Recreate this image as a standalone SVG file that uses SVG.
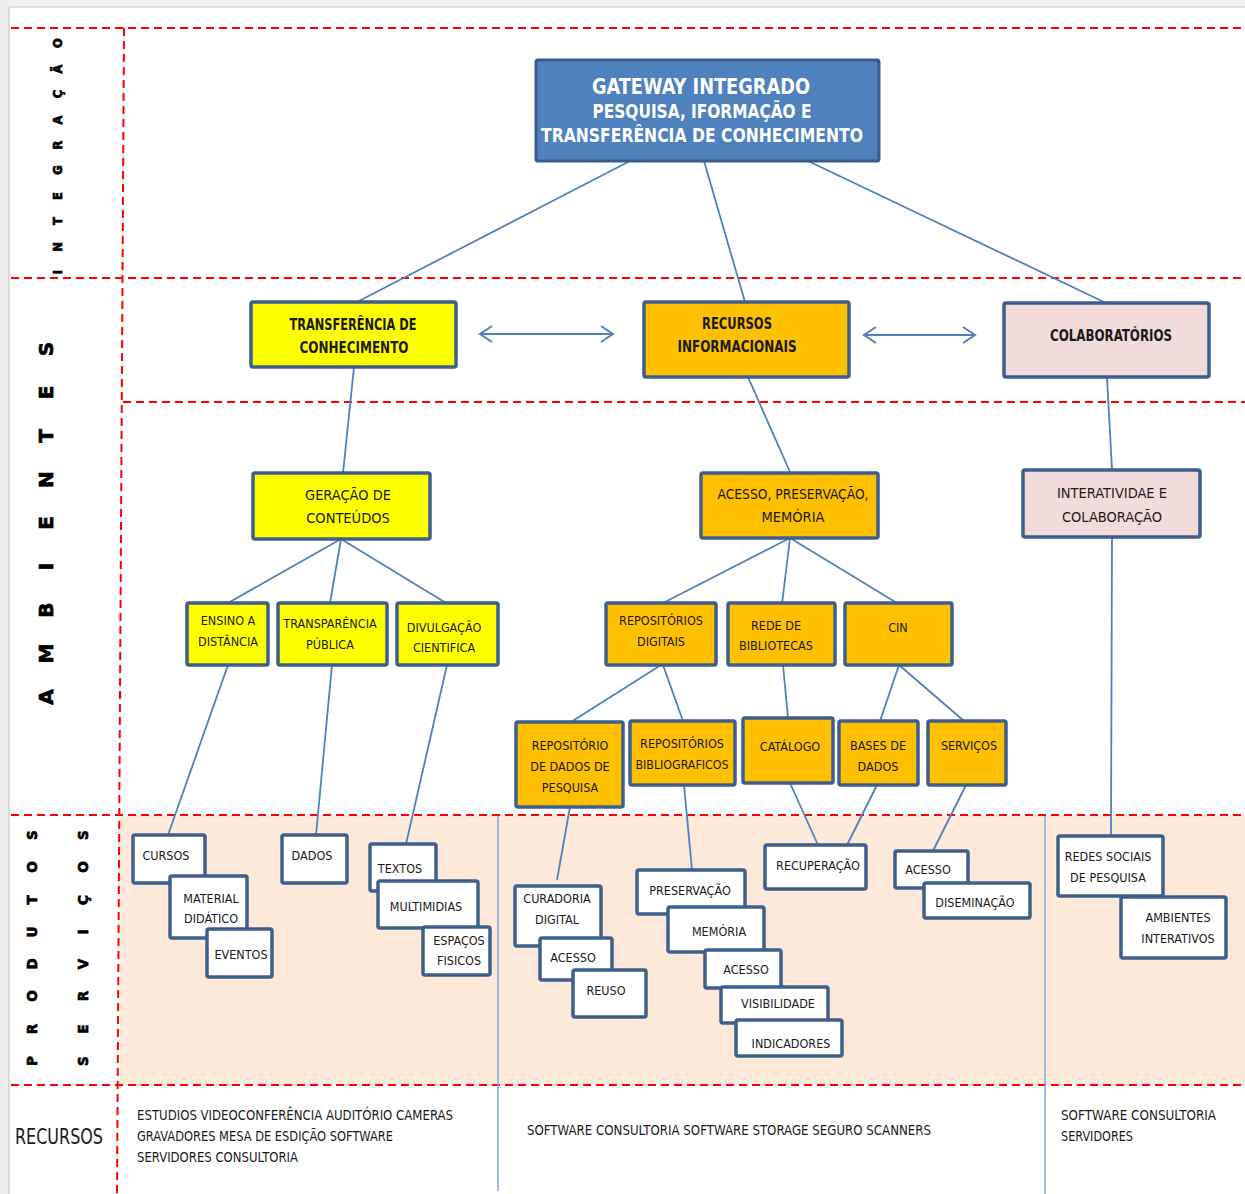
<svg xmlns="http://www.w3.org/2000/svg" width="1245" height="1194" viewBox="0 0 1245 1194">
<defs>
<style>
.red{stroke:#ff0000;stroke-width:2;stroke-dasharray:8 5;fill:none}
.con line{stroke:#4f81bd;stroke-width:1.8}
.sep{stroke:#7fa4d2;stroke-width:1.5}
.box{stroke:#3e5f8c;stroke-width:3.5}
.y{fill:#ffff00}.o{fill:#ffc000}.p{fill:#f2dcdb}.w{fill:#ffffff}
text{font-family:"Liberation Sans Narrow","DejaVu Sans Condensed","Liberation Sans",sans-serif;fill:#1a1a1a}
.c{text-anchor:middle}
.b{font-weight:bold}
.f15{font-size:14.5px}.f16{font-size:16px}.f13{font-size:12.5px}
.vert{font-family:"DejaVu Sans","Liberation Sans",sans-serif;font-weight:bold;text-anchor:middle;fill:#000;stroke:#000;stroke-width:0.7}
.g{fill:#ffffff;font-weight:bold;text-anchor:middle}
</style>
<marker id="chev" viewBox="-14 -10 16 20" markerWidth="16" markerHeight="20" refX="0" refY="0" orient="auto-start-reverse" markerUnits="userSpaceOnUse" overflow="visible">
<path d="M-12,-8 L0,0 L-12,8" fill="none" stroke="#4f81bd" stroke-width="2"/>
</marker>
</defs>
<rect x="0" y="0" width="1245" height="1194" fill="#efefef"/>
<rect x="9" y="7" width="1245" height="1200" fill="#ffffff" stroke="#d8d5c4" stroke-width="1.5"/>
<rect x="120" y="816" width="1125" height="269" fill="#fde9d9"/>
<g id="grid">
<line class="red" x1="11" y1="28" x2="1245" y2="28"/>
<line class="red" x1="124" y1="28" x2="117" y2="1194"/>
<line class="red" x1="11" y1="278" x2="1245" y2="278"/>
<line class="red" x1="123" y1="402" x2="1245" y2="402"/>
<line class="red" x1="11" y1="815" x2="1245" y2="815"/>
<line class="red" x1="11" y1="1085" x2="1245" y2="1085"/>
<line class="sep" x1="498" y1="816" x2="498" y2="1191"/>
<line class="sep" x1="1045" y1="816" x2="1045" y2="1194"/>
</g>
<g id="labels">
<text class="vert" style="font-size:11.5px" transform="translate(62,275) rotate(-90)" x="3 28 54 79 105 130 155 181 206 232">INTEGRAÇÃO</text>
<text class="vert" style="font-size:20px" transform="translate(53,720) rotate(-90)" x="23 66.5 110 153.5 197 240.5 284 327.5 371">AMBIENTES</text>
<text class="vert" style="font-size:13.5px" transform="translate(37,1080) rotate(-90)" x="19 51 84 116 148 180 213 245">PRODUTOS</text>
<text class="vert" style="font-size:13.5px" transform="translate(88,1080) rotate(-90)" x="19 51 84 116 148 180 213 245">SERVIÇOS</text>
<text x="15" y="1144" style="font-size:22px" textLength="88" lengthAdjust="spacingAndGlyphs">RECURSOS</text>
</g>
<g id="connectors" class="con">
<line x1="630" y1="161" x2="357" y2="302"/>
<line x1="704" y1="161" x2="745" y2="302"/>
<line x1="808" y1="161" x2="1106" y2="303"/>
<line x1="354" y1="367" x2="343" y2="473"/>
<line x1="748" y1="377" x2="790" y2="472"/>
<line x1="1107" y1="377" x2="1112" y2="470"/>
<line x1="341" y1="539" x2="228" y2="603"/>
<line x1="341" y1="539" x2="330" y2="603"/>
<line x1="341" y1="539" x2="446" y2="603"/>
<line x1="790" y1="538" x2="663" y2="603"/>
<line x1="790" y1="538" x2="782" y2="604"/>
<line x1="790" y1="538" x2="897" y2="603"/>
<line x1="661" y1="665" x2="571" y2="722"/>
<line x1="663" y1="665" x2="683" y2="721"/>
<line x1="783" y1="665" x2="788" y2="718"/>
<line x1="899" y1="665" x2="880" y2="721"/>
<line x1="899" y1="665" x2="964" y2="721"/>
<line x1="228" y1="665" x2="168" y2="835"/>
<line x1="332" y1="665" x2="316" y2="835"/>
<line x1="447" y1="665" x2="406" y2="844"/>
<line x1="570" y1="807" x2="557" y2="880"/>
<line x1="684" y1="785" x2="692" y2="870"/>
<line x1="790" y1="783" x2="818" y2="845"/>
<line x1="877" y1="785" x2="847" y2="845"/>
<line x1="966" y1="785" x2="933" y2="851"/>
<line x1="1112" y1="537" x2="1111" y2="836"/>
<line x1="480" y1="334" x2="613" y2="334" marker-start="url(#chev)" marker-end="url(#chev)"/>
<line x1="864" y1="335" x2="975" y2="335" marker-start="url(#chev)" marker-end="url(#chev)"/>
</g>
<g id="gateway">
<rect x="536" y="60" width="343" height="101" rx="2" fill="#4f81bd" stroke="#385d8a" stroke-width="3"/>
<text class="g" x="701" y="94" style="font-size:22px" textLength="218" lengthAdjust="spacingAndGlyphs">GATEWAY INTEGRADO</text>
<text class="g" x="702" y="118" style="font-size:19px" textLength="219" lengthAdjust="spacingAndGlyphs">PESQUISA, IFORMAÇÃO E</text>
<text class="g" x="702" y="142" style="font-size:19px" textLength="322" lengthAdjust="spacingAndGlyphs">TRANSFERÊNCIA DE CONHECIMENTO</text>
</g>
<g id="transferencia">
<rect class="box y" x="251" y="302" width="205" height="65" rx="2"/>
<text class="c b f16" x="353" y="330" textLength="127" lengthAdjust="spacingAndGlyphs">TRANSFERÊNCIA DE</text>
<text class="c b f16" x="354" y="353" textLength="109" lengthAdjust="spacingAndGlyphs">CONHECIMENTO</text>
</g>
<g id="recursos-info">
<rect class="box o" x="644" y="302" width="205" height="75" rx="2"/>
<text class="c b f16" x="737" y="329" textLength="70" lengthAdjust="spacingAndGlyphs">RECURSOS</text>
<text class="c b f16" x="737" y="352" textLength="119" lengthAdjust="spacingAndGlyphs">INFORMACIONAIS</text>
</g>
<g id="colaboratorios">
<rect class="box p" x="1004" y="303" width="205" height="74" rx="2"/>
<text class="c b f16" x="1111" y="341" textLength="122" lengthAdjust="spacingAndGlyphs">COLABORATÓRIOS</text>
</g>
<g id="geracao">
<rect class="box y" x="253" y="473" width="177" height="66" rx="2"/>
<text class="c f15" x="348" y="500">GERAÇÃO DE</text>
<text class="c f15" x="348" y="523">CONTEÚDOS</text>
</g>
<g id="acesso-pres">
<rect class="box o" x="701" y="473" width="177" height="65" rx="2"/>
<text class="c f15" x="793" y="499" textLength="151" lengthAdjust="spacingAndGlyphs">ACESSO, PRESERVAÇÃO,</text>
<text class="c f15" x="793" y="522">MEMÓRIA</text>
</g>
<g id="interatividade">
<rect class="box p" x="1023" y="470" width="177" height="67" rx="2"/>
<text class="c f15" x="1112" y="498">INTERATIVIDAE E</text>
<text class="c f15" x="1112" y="522">COLABORAÇÃO</text>
</g>
<g id="ensino">
<rect class="box y" x="187" y="603" width="81" height="62" rx="2"/>
<text class="c f13" x="228" y="625">ENSINO A</text>
<text class="c f13" x="228" y="646">DISTÂNCIA</text>
</g>
<g id="transparencia">
<rect class="box y" x="278" y="603" width="109" height="62" rx="2"/>
<text class="c f13" x="330" y="628">TRANSPARÊNCIA</text>
<text class="c f13" x="330" y="649">PÚBLICA</text>
</g>
<g id="divulgacao">
<rect class="box y" x="397" y="603" width="101" height="62" rx="2"/>
<text class="c f13" x="444" y="632">DIVULGAÇÃO</text>
<text class="c f13" x="444" y="652">CIENTIFICA</text>
</g>
<g id="repositorios-digitais">
<rect class="box o" x="606" y="603" width="110" height="62" rx="2"/>
<text class="c f13" x="661" y="625">REPOSITÓRIOS</text>
<text class="c f13" x="661" y="646">DIGITAIS</text>
</g>
<g id="rede-bibliotecas">
<rect class="box o" x="728" y="603" width="107" height="62" rx="2"/>
<text class="c f13" x="776" y="630">REDE DE</text>
<text class="c f13" x="776" y="650">BIBLIOTECAS</text>
</g>
<g id="cin">
<rect class="box o" x="845" y="603" width="107" height="62" rx="2"/>
<text class="c f13" x="898" y="632">CIN</text>
</g>
<g id="repositorio-dados">
<rect class="box o" x="516" y="722" width="107" height="85" rx="2"/>
<text class="c f13" x="570" y="750">REPOSITÓRIO</text>
<text class="c f13" x="570" y="771">DE DADOS DE</text>
<text class="c f13" x="570" y="792">PESQUISA</text>
</g>
<g id="repositorios-biblio">
<rect class="box o" x="630" y="721" width="105" height="64" rx="2"/>
<text class="c f13" x="682" y="748">REPOSITÓRIOS</text>
<text class="c f13" x="682" y="769" textLength="93" lengthAdjust="spacingAndGlyphs">BIBLIOGRAFICOS</text>
</g>
<g id="catalogo">
<rect class="box o" x="743" y="718" width="90" height="65" rx="2"/>
<text class="c f13" x="790" y="751">CATÁLOGO</text>
</g>
<g id="bases">
<rect class="box o" x="839" y="721" width="79" height="64" rx="2"/>
<text class="c f13" x="878" y="750">BASES DE</text>
<text class="c f13" x="878" y="771">DADOS</text>
</g>
<g id="servicos">
<rect class="box o" x="928" y="721" width="78" height="64" rx="2"/>
<text class="c f13" x="969" y="750">SERVIÇOS</text>
</g>
<g id="cursos">
<rect class="box w" x="133" y="835" width="72" height="48" rx="2"/>
<text class="c f13" x="166" y="860">CURSOS</text>
</g>
<g id="material">
<rect class="box w" x="170" y="876" width="77" height="62" rx="2"/>
<text class="c f13" x="211" y="903">MATERIAL</text>
<text class="c f13" x="211" y="923">DIDÁTICO</text>
</g>
<g id="eventos">
<rect class="box w" x="207" y="929" width="65" height="48" rx="2"/>
<text class="c f13" x="241" y="959">EVENTOS</text>
</g>
<g id="dados">
<rect class="box w" x="282" y="835" width="65" height="48" rx="2"/>
<text class="c f13" x="312" y="860">DADOS</text>
</g>
<g id="textos">
<rect class="box w" x="370" y="844" width="66" height="47" rx="2"/>
<text class="c f13" x="400" y="873">TEXTOS</text>
</g>
<g id="multimidias">
<rect class="box w" x="378" y="881" width="100" height="47" rx="2"/>
<text class="c f13" x="426" y="911">MULTIMIDIAS</text>
</g>
<g id="espacos">
<rect class="box w" x="423" y="927" width="67" height="48" rx="2"/>
<text class="c f13" x="459" y="945">ESPAÇOS</text>
<text class="c f13" x="459" y="965">FISICOS</text>
</g>
<g id="curadoria">
<rect class="box w" x="515" y="886" width="86" height="60" rx="2"/>
<text class="c f13" x="557" y="903">CURADORIA</text>
<text class="c f13" x="557" y="924">DIGITAL</text>
</g>
<g id="acesso1">
<rect class="box w" x="540" y="938" width="72" height="42" rx="2"/>
<text class="c f13" x="573" y="962">ACESSO</text>
</g>
<g id="reuso">
<rect class="box w" x="573" y="970" width="73" height="47" rx="2"/>
<text class="c f13" x="606" y="995">REUSO</text>
</g>
<g id="preservacao">
<rect class="box w" x="637" y="870" width="108" height="44" rx="2"/>
<text class="c f13" x="690" y="895">PRESERVAÇÃO</text>
</g>
<g id="memoria">
<rect class="box w" x="668" y="907" width="96" height="45" rx="2"/>
<text class="c f13" x="719" y="936">MEMÓRIA</text>
</g>
<g id="acesso2">
<rect class="box w" x="705" y="950" width="76" height="38" rx="2"/>
<text class="c f13" x="746" y="974">ACESSO</text>
</g>
<g id="visibilidade">
<rect class="box w" x="721" y="987" width="107" height="36" rx="2"/>
<text class="c f13" x="778" y="1008">VISIBILIDADE</text>
</g>
<g id="indicadores">
<rect class="box w" x="736" y="1020" width="106" height="36" rx="2"/>
<text class="c f13" x="791" y="1048">INDICADORES</text>
</g>
<g id="recuperacao">
<rect class="box w" x="765" y="845" width="101" height="44" rx="2"/>
<text class="c f13" x="818" y="870">RECUPERAÇÃO</text>
</g>
<g id="acesso3">
<rect class="box w" x="895" y="851" width="73" height="37" rx="2"/>
<text class="c f13" x="928" y="874">ACESSO</text>
</g>
<g id="diseminacao">
<rect class="box w" x="924" y="883" width="106" height="35" rx="2"/>
<text class="c f13" x="975" y="907">DISEMINAÇÃO</text>
</g>
<g id="redes">
<rect class="box w" x="1058" y="836" width="105" height="60" rx="2"/>
<text class="c f13" x="1108" y="861">REDES SOCIAIS</text>
<text class="c f13" x="1108" y="882">DE PESQUISA</text>
</g>
<g id="ambientes-int">
<rect class="box w" x="1121" y="897" width="105" height="61" rx="2"/>
<text class="c f13" x="1178" y="922">AMBIENTES</text>
<text class="c f13" x="1178" y="943">INTERATIVOS</text>
</g>
<g id="recursos-text">
<text x="137" y="1120" style="font-size:14px" textLength="316" lengthAdjust="spacingAndGlyphs">ESTUDIOS  VIDEOCONFERÊNCIA AUDITÓRIO  CAMERAS</text>
<text x="137" y="1141" style="font-size:14px" textLength="256" lengthAdjust="spacingAndGlyphs">GRAVADORES  MESA DE ESDIÇÃO  SOFTWARE</text>
<text x="137" y="1162" style="font-size:14px" textLength="161" lengthAdjust="spacingAndGlyphs">SERVIDORES  CONSULTORIA</text>
<text x="527" y="1135" style="font-size:14px" textLength="404" lengthAdjust="spacingAndGlyphs">SOFTWARE  CONSULTORIA SOFTWARE  STORAGE SEGURO SCANNERS</text>
<text x="1061" y="1120" style="font-size:14px" textLength="155" lengthAdjust="spacingAndGlyphs">SOFTWARE  CONSULTORIA</text>
<text x="1061" y="1141" style="font-size:14px" textLength="72" lengthAdjust="spacingAndGlyphs">SERVIDORES</text>
</g>
</svg>
